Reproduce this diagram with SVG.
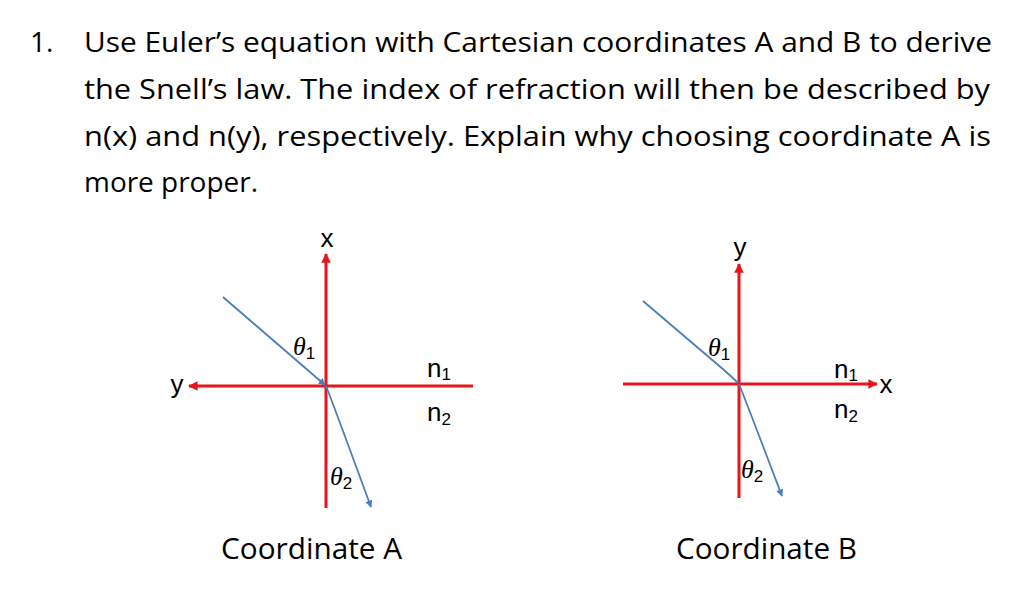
<svg xmlns="http://www.w3.org/2000/svg" width="1024" height="605" viewBox="0 0 1024 605">
<defs>
<marker id="redArrow" viewBox="0 0 10 10" refX="9" refY="5" markerWidth="3.2" markerHeight="3.2" orient="auto" markerUnits="strokeWidth">
<path d="M0,0 L10,5 L0,10 Z" fill="#e8141b"/>
</marker>
<marker id="blueArrow" viewBox="0 0 10 10" refX="9" refY="5" markerWidth="4" markerHeight="4" orient="auto" markerUnits="strokeWidth">
<path d="M0,0 L10,5 L0,10 Z" fill="#4a7ebb"/>
</marker>
</defs>
<style>
.title{font-family:"Open Sans","Noto Sans",sans-serif;font-size:28px;fill:#000}
.cap{font-family:"Open Sans","Noto Sans",sans-serif;font-size:29px;fill:#000}
.axis{stroke:#e8141b;stroke-width:3;fill:none}
.ray{stroke:#4a7ebb;stroke-width:1.8;fill:none}
.lbl{font-family:"Liberation Sans",Arial,sans-serif;font-size:26px;fill:#000}
.th{font-family:"Liberation Serif","DejaVu Serif",serif;font-style:italic;font-size:26px;fill:#000}
.sub{font-family:"Liberation Sans",Arial,sans-serif;font-style:normal;font-size:17px}
</style>
<rect width="1024" height="605" fill="#fff"/>
<g id="question">
<text class="title" x="30" y="52">1.</text>
<text class="title" x="84" y="52" textLength="908" lengthAdjust="spacingAndGlyphs">Use Euler’s equation with Cartesian coordinates A and B to derive</text>
<text class="title" x="84" y="99" textLength="906" lengthAdjust="spacingAndGlyphs">the Snell’s law. The index of refraction will then be described by</text>
<text class="title" x="84" y="146" textLength="907" lengthAdjust="spacingAndGlyphs">n(x) and n(y), respectively. Explain why choosing coordinate A is</text>
<text class="title" x="84" y="192" textLength="174" lengthAdjust="spacingAndGlyphs">more proper.</text>
</g>
<g id="connectors">
<line class="axis" x1="326" y1="508" x2="326" y2="254" marker-end="url(#redArrow)"/>
<line class="axis" x1="473" y1="386" x2="189" y2="386" marker-end="url(#redArrow)"/>
<line class="ray" x1="223" y1="297" x2="325" y2="385" marker-end="url(#blueArrow)"/>
<path class="ray" d="M326,386 Q331,398 371,507" marker-end="url(#blueArrow)"/>
<line class="axis" x1="739" y1="498" x2="739" y2="264" marker-end="url(#redArrow)"/>
<line class="axis" x1="623" y1="384" x2="877" y2="384" marker-end="url(#redArrow)"/>
<path class="ray" d="M643,301 L724,370 Q733,378 738,383"/>
<path class="ray" d="M739,384 Q744,396 782,496" marker-end="url(#blueArrow)"/>
</g>
<g id="coordA">
<text class="lbl" x="327" y="247" text-anchor="middle">x</text>
<text class="lbl" x="177" y="393" text-anchor="middle">y</text>
<text class="th" x="293" y="355">θ<tspan class="sub" dy="4">1</tspan></text>
<text class="lbl" x="427" y="377">n<tspan class="sub" dy="3">1</tspan></text>
<text class="lbl" x="427" y="421">n<tspan class="sub" dy="4">2</tspan></text>
<text class="th" x="330" y="485">θ<tspan class="sub" dy="4">2</tspan></text>
<text class="cap" x="221" y="559" textLength="181" lengthAdjust="spacingAndGlyphs">Coordinate A</text>
</g>
<g id="coordB">
<text class="lbl" x="740" y="256" text-anchor="middle">y</text>
<text class="lbl" x="886" y="393" text-anchor="middle">x</text>
<text class="th" x="708" y="356">θ<tspan class="sub" dy="4">1</tspan></text>
<text class="lbl" x="834" y="378">n<tspan class="sub" dy="3">1</tspan></text>
<text class="lbl" x="834" y="418">n<tspan class="sub" dy="4">2</tspan></text>
<text class="th" x="741" y="478">θ<tspan class="sub" dy="4">2</tspan></text>
<text class="cap" x="676" y="559" textLength="181" lengthAdjust="spacingAndGlyphs">Coordinate B</text>
</g>
</svg>
